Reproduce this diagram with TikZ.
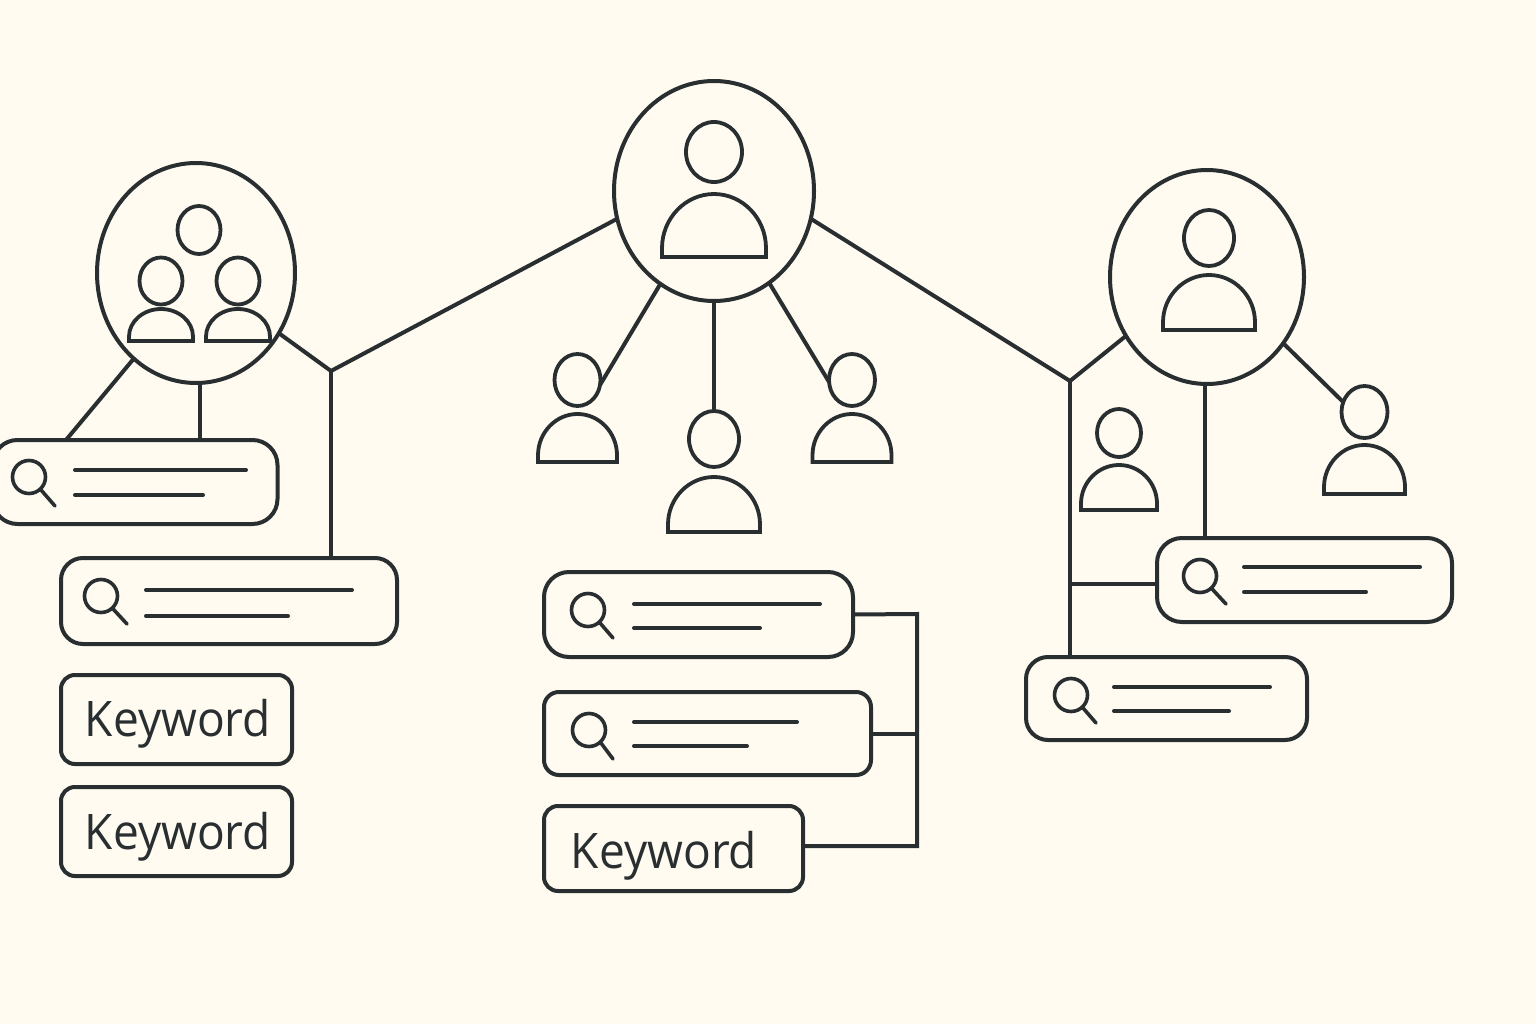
\documentclass[tikz,border=0pt]{standalone}
\usepackage{fontspec}
\setmainfont[FakeStretch=0.94]{Open Sans}
\usetikzlibrary{shapes.geometric,calc}
\definecolor{paper}{RGB}{255,251,241}
\definecolor{ink}{RGB}{41,46,48}
\tikzset{
  base/.style={draw=ink,line width=4pt,line join=round},
  bubble/.style={base,ellipse,inner sep=0pt,outer sep=0pt},
  headnode/.style={draw=ink,line width=3.8pt,ellipse,inner sep=0pt,outer sep=0pt},
  boxnode/.style={base,rectangle,inner sep=0pt,outer sep=0pt},
  wire/.style={draw=ink,line width=4pt,line join=miter},
  icon/.style={draw=ink,line width=3.6pt,line cap=round},
  textline/.style={draw=ink,line width=4pt,line cap=round},
  kwtext/.style={anchor=base,inner sep=0pt,text=ink,font=\fontsize{49}{49}\selectfont},
}
% name, cx, head cy, head rx, head ry
\newcommand{\headicon}[5]{%
  \node[headnode,minimum width=#4*2pt,minimum height=#5*2pt] (#1) at (#2,#3) {};
}
% name, cx, head cy, head rx, head ry, body half width, body top, body bottom
\newcommand{\personicon}[8]{%
  \headicon{#1}{#2}{#3}{#4}{#5}
  \pgfmathsetmacro{\pL}{#2-#6}\pgfmathsetmacro{\pR}{#2+#6}
  \pgfmathsetmacro{\pM}{#8-0.14*(#8-#7)}
  \pgfmathsetmacro{\pC}{\pM-0.55*(\pM-#7)}
  \pgfmathsetmacro{\pA}{#2-0.55*#6}\pgfmathsetmacro{\pB}{#2+0.55*#6}
  \draw[draw=ink,line width=3.8pt,line join=miter] (\pL,#8) -- (\pL,\pM)
    .. controls (\pL,\pC) and (\pA,#7) .. (#2,#7)
    .. controls (\pB,#7) and (\pR,\pC) .. (\pR,\pM) -- (\pR,#8) -- cycle;
}
% lens x, lens y, handle end x, handle end y
\newcommand{\searchicon}[4]{%
  \node[headnode,line width=3.6pt,circle,minimum size=33pt] (lens#1) at (#1,#2) {};
  \draw[icon] (lens#1.-47) -- (#3,#4);
}
\begin{document}
\begin{tikzpicture}[x=1pt,y=-1pt]
\path[use as bounding box,fill=paper] (0,0) rectangle (1536,1024);

% circles
\node[bubble,minimum width=200pt,minimum height=220pt] (cc) at (714,191) {};
\node[bubble,minimum width=198pt,minimum height=220pt] (lc) at (196,273) {};
\node[bubble,minimum width=194pt,minimum height=214pt] (rc) at (1207,277) {};

% people inside circles
\personicon{pc}{714}{152}{28}{30}{52}{194}{257}
\headicon{pl0}{199}{230}{21.5}{24}
\personicon{pl1}{161}{281}{21.5}{23.5}{32}{309}{341}
\personicon{pl2}{238}{281}{21.5}{23.5}{32}{309}{341}
\personicon{pr}{1209}{238}{25}{28}{46}{275}{330}

% free people
\personicon{m1}{577.5}{380}{23}{26}{39.5}{414}{462}
\personicon{m2}{714}{439}{25}{28}{46}{477}{532}
\personicon{m3}{852}{380}{23}{26}{39.5}{414}{462}
\personicon{r1}{1119}{433}{22}{24}{38}{465}{510}
\personicon{r2}{1364.5}{412}{23}{26}{40.5}{445}{494}

% search boxes
\node[boxnode,rounded corners=25pt,minimum width=285pt,minimum height=84pt] (b1) at (135,482) {};
\node[boxnode,rounded corners=22pt,minimum width=336pt,minimum height=86pt] (b2) at (229,601) {};
\node[boxnode,rounded corners=25pt,minimum width=309pt,minimum height=85pt] (b3) at (698.5,614.5) {};
\node[boxnode,rounded corners=15pt,minimum width=327pt,minimum height=83pt] (b4) at (707.5,733.5) {};
\node[boxnode,rounded corners=25pt,minimum width=295pt,minimum height=84pt] (b5) at (1304.5,580) {};
\node[boxnode,rounded corners=22pt,minimum width=281pt,minimum height=83pt] (b6) at (1166.5,698.5) {};

% keyword boxes
\node[boxnode,rounded corners=14pt,minimum width=231pt,minimum height=89pt] (k1) at (176.5,719.5) {};
\node[boxnode,rounded corners=14pt,minimum width=231pt,minimum height=89pt] (k2) at (176.5,831.5) {};
\node[boxnode,rounded corners=14pt,minimum width=259pt,minimum height=85pt] (k3) at (673.5,848.5) {};
\node[kwtext] (kt1) at (178,736.5) {Keyword};
\node[kwtext] (kt2) at (178,849.5) {Keyword};
\node[kwtext] (kt3) at (664,868) {Keyword};

% icons and lines in boxes
\searchicon{29}{477}{55}{506}
\draw[textline] (75,470) -- (246,470);
\draw[textline] (75,495) -- (203,495);
\searchicon{101}{596}{127}{624}
\draw[textline] (146,590) -- (352,590);
\draw[textline] (146,616) -- (288,616);
\searchicon{588}{610}{613}{638}
\draw[textline] (634,604) -- (820,604);
\draw[textline] (634,628) -- (760,628);
\searchicon{589}{730}{613}{759}
\draw[textline] (634,722) -- (797,722);
\draw[textline] (634,746) -- (747,746);
\searchicon{1200}{576}{1226}{604}
\draw[textline] (1244,567) -- (1420,567);
\draw[textline] (1244,592) -- (1366,592);
\searchicon{1071}{695}{1096}{723}
\draw[textline] (1114,687) -- (1270,687);
\draw[textline] (1114,711) -- (1229,711);

% junctions
\coordinate (j1) at (331,371);
\coordinate (j2) at (1070,381);
\coordinate (b1in) at (66,440);
\coordinate (j3) at (1070,584);
\coordinate (bus) at (917,614);
\coordinate (k3e) at (803,846);

% connectors
\draw[wire] (cc.196) -- (j1) -- (lc.-36);
\draw[wire] (j1) -- (j1 |- b2.north);
\draw[wire] (lc.234.4) -- (b1in);
\draw[wire] (lc.-88.9) -- (lc.-88.9 |- b1.north);
\draw[wire] (cc.-16.5) -- (j2) -- (rc.216.9);
\draw[wire] (j2) -- (j2 |- b6.north);
\draw[wire] (j3) -- (j3 -| b5.west);
\draw[wire] (rc.-91.9) -- (rc.-91.9 |- b5.north);
\draw[wire] (rc.-41) -- (r2.155);
\draw[wire] (cc.240.8) -- (m1.-12);
\draw[wire] (cc.south) -- (m2.north);
\draw[wire] (cc.-59.5) -- (m3.185);
\draw[wire] (b3.east) -- (bus) -- (bus |- k3e) -- (k3e);
\draw[wire] (b4.east) -- (b4.east -| bus);
\end{tikzpicture}
\end{document}
